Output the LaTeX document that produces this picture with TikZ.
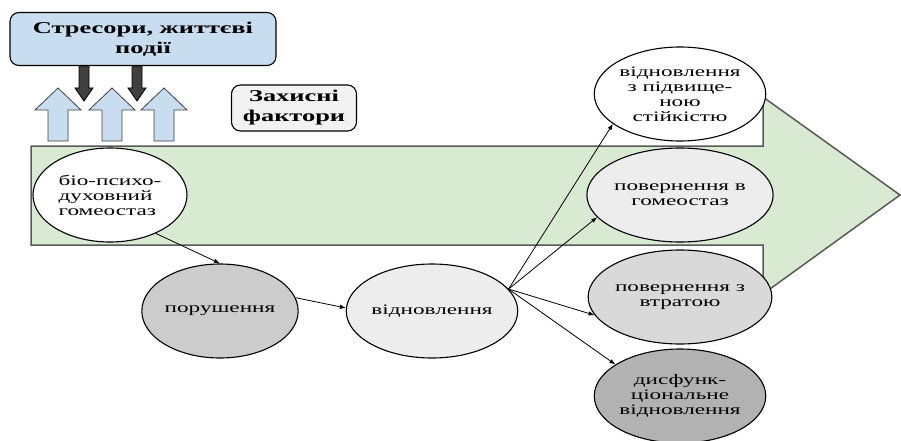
\documentclass[tikz,border=0pt]{standalone}
\usepackage{fontspec}
\setmainfont{Liberation Serif}[FakeStretch=1.6]
\usetikzlibrary{shapes.geometric,arrows.meta}
\definecolor{arrowgreen}{HTML}{D9EAD3}
\definecolor{boxblue}{HTML}{C9DDF0}
\definecolor{boxgray}{HTML}{F2F2F2}
\begin{document}
\begin{tikzpicture}[x=1pt,y=-1pt,
    state/.style={ellipse,draw=black,line width=1.1pt,inner sep=0pt,
      minimum width=154pt,minimum height=94pt,align=center,
      font=\fontsize{14.5}{15}\selectfont},
    titlebox/.style={rectangle,rounded corners=9pt,draw=black,line width=1.1pt,
      align=center,font=\fontsize{16.5}{20}\selectfont\bfseries},
    link/.style={-{Latex[length=6pt,width=4.5pt]},line width=0.8pt}]
  \useasboundingbox (0,0) rectangle (901,441);
  % big green arrow
  \draw[fill=arrowgreen,draw=black!65,line width=1.5pt]
    (31,146) -- (763,146) -- (763,97) -- (900,195) -- (763,294)
    -- (763,245) -- (31,245) -- cycle;
  % stressors
  \node[titlebox,fill=boxblue,minimum width=266pt,minimum height=53pt] (stress) at (143,39)
    {Стресори, життєві\\події};
  \node[titlebox,fill=boxgray,minimum width=125pt,minimum height=46pt] (protect) at (294,108)
    {Захисні\\фактори};
  % protective arrows (up)
  \foreach \x in {58,112,164}
    \draw[fill=boxblue,draw=black!75,line width=0.8pt]
      (\x-10,141) -- (\x-10,110) -- (\x-23,110) -- (\x,88) -- (\x+23,110)
      -- (\x+10,110) -- (\x+10,141) -- cycle;
  % stress arrows (down)
  \foreach \x in {84,137}
    \draw[fill=black!75,draw=black,line width=0.8pt]
      (\x-5,66) -- (\x+5,66) -- (\x+5,88) -- (\x+9,88) -- (\x,101)
      -- (\x-9,88) -- (\x-5,88) -- cycle;
  % states
  \node[state,fill=white,align=left] (home) at (110,195)
    {біо-психо-\\духовний\\гомеостаз};
  \node[state,fill=black!20] (disrupt) at (220,311) {порушення};
  \node[state,fill=black!7] (recover) at (432,311) {відновлення};
  \node[state,fill=white] (resil) at (680,94)
    {відновлення\\з підвище-\\ною\\стійкістю};
  \node[state,fill=black!7] (back) at (680,195) {повернення в\\гомеостаз};
  \node[state,fill=black!15] (loss) at (680,297) {повернення з\\втратою};
  \node[state,fill=black!30] (dysf) at (680,396)
    {дисфунк-\\ціональне\\відновлення};
  % links
  \draw[link] (home.320) -- (disrupt.north);
  \draw[link] (disrupt.10) -- (recover.178);
  \coordinate (fan) at (recover.16);
  \draw[link] (fan) -- (resil.204);
  \draw[link] (fan) -- (back.195);
  \draw[link] (fan) -- (loss.192);
  \draw[link] (fan) -- (dysf.154);
\end{tikzpicture}
\end{document}
